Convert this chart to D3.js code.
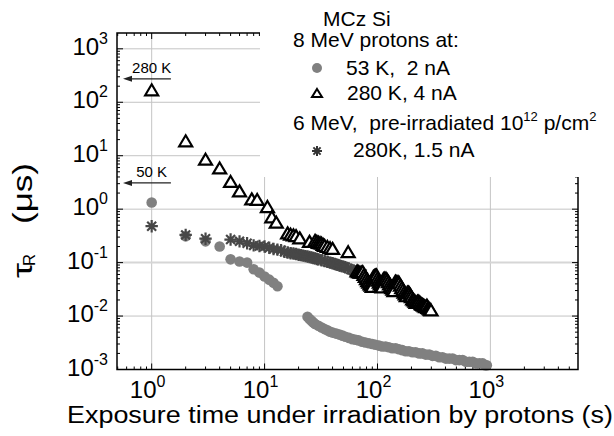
<!DOCTYPE html>
<html><head><meta charset="utf-8">
<script src="https://cdn.jsdelivr.net/npm/d3@7"></script>
<style>
body{margin:0;background:#fff}
text{font-family:"Liberation Sans",Arial,sans-serif;fill:#000}
</style>
</head><body><svg id="c" width="614" height="436"></svg>
<script>
// ---------- data ----------
// 53 K, 2 nA (grey circles)
const circT = [1,2,3,4,5,6,7,8,9,10,11,12,13,
  24,25,26,27,28,30,32,34,36,38,40,43,46,49,52,56,60,64,68,73,
  78,84,90,96,103,110,118,126,135,145,155,166,178,190,204,218,234,250,268,287,
  307,329,352,377,404,432,463,495,530,568,608,651,697,746,799,855,900,930];
const circV = [1.33,0.31,0.25,0.2,0.115,0.105,0.1,0.075,0.065,0.055,0.048,0.042,0.036,
  0.0097,0.0088,0.0082,0.0076,0.0071,0.0066,0.0061,0.0057,0.0054,0.0051,0.0049,0.0047,0.0045,0.0043,0.0041,0.0039,0.0037,0.0036,0.0035,0.0033,
  0.0032,0.0031,0.003,0.0029,0.0028,0.0027,0.0027,0.0026,0.0025,0.0025,0.0024,0.0023,0.0022,0.0022,0.0021,0.0021,0.002,0.002,0.0019,0.0019,
  0.0018,0.0018,0.0017,0.0017,0.0016,0.0016,0.0016,0.0015,0.0015,0.0015,0.0014,0.0014,0.0014,0.0013,0.0013,0.0013,0.0012,0.0012];
// 280 K, 4 nA (open triangles)
const triT = [1,2,3,4,5,6,7.7,8.6,10.6,11.6,12.7,
  16,17,18,19,20.5,
  25,28,29,30,31,32,33,34,36,38,40,55,
  66,68,70,72,74,76,78,80,82,84,86,88,90,
  92,94,96,98,100,102,104,106,108,110,
  113,116,119,122,125,128,131,134,137,140,
  144,148,152,156,160,164,168,172,176,180,
  184,188,192,196,200,205,210,215,220,
  226,232,238,244,250,256,262,268,274,280,286,292,298];
const triV = [171,19,8.6,5.9,3.3,2.2,1.56,1.52,1.12,0.72,0.57,
  0.36,0.34,0.33,0.32,0.29,
  0.25,0.26,0.25,0.24,0.235,0.23,0.22,0.21,0.2,0.19,0.185,0.16,
  0.07,0.068,0.066,0.066,0.068,0.06,0.055,0.05,0.046,0.043,0.04,0.038,0.036,
  0.055,0.057,0.058,0.059,0.052,0.047,0.043,0.04,0.037,0.035,
  0.05,0.051,0.051,0.048,0.044,0.04,0.037,0.034,0.032,0.03,
  0.045,0.044,0.044,0.042,0.038,0.034,0.031,0.028,0.026,0.024,
  0.028,0.028,0.027,0.025,0.023,0.021,0.02,0.019,0.018,
  0.019,0.019,0.018,0.017,0.0165,0.016,0.0155,0.015,0.016,0.0145,0.014,0.0135,0.013];
// 6 MeV pre-irradiated, 280K 1.5 nA (asterisks)
const starT = [1,2,3,5,6,7,8,9,10,11,12,13,14,15,16,17,18,19,20,21,22,23,24,25,26,27,28,29,30,32,34,36,38,40,42,44,46,48,50,52,55,58,61,64,67,70,73];
const starV = [0.48,0.33,0.28,0.27,0.25,0.23,0.21,0.205,0.2,0.19,0.18,0.175,0.17,0.16,0.155,0.15,0.148,0.145,0.14,0.138,0.135,0.132,0.13,0.127,0.125,0.122,0.12,0.117,0.115,0.11,0.107,0.104,0.1,0.097,0.094,0.091,0.088,0.086,0.084,0.082,0.078,0.074,0.071,0.068,0.066,0.064,0.062];

const xTickVals = [1,10,100,1000];
const xTickExp = ["0","1","2","3"];
const yTickVals = [1e-3,1e-2,1e-1,1,10,100,1000];
const yTickExp = ["-3","-2","-1","0","1","2","3"];
const xDomain = [0.493, 5970];
const yDomain = [1e-3, 1977];
const arrowLabels = ["280 K","50 K"];
const arrowTau = [275, 3.1];
const arrowFrom = 1.48, arrowTo = 0.557;

// ---------- layout ----------
const L=117, R=578, T=33, B=369.5;
const svg = d3.select("#c");
svg.append("rect").attr("width",614).attr("height",436).attr("fill","#fff");
const x = d3.scaleLog().domain(xDomain).range([L,R]);
const y = d3.scaleLog().domain(yDomain).range([B,T]);

// grid
const grid = svg.append("g");
xTickVals.forEach(v=>grid.append("line").attr("x1",x(v)).attr("x2",x(v)).attr("y1",T).attr("y2",B)
  .attr("stroke","#c4c4c4").attr("stroke-width",1));
yTickVals.forEach(v=>{ if(v<=1e-3) return;
  grid.append("line").attr("x1",L).attr("x2",R).attr("y1",y(v)).attr("y2",y(v))
  .attr("stroke", v===0.1?"#d6d6d6":"#c4c4c4").attr("stroke-width", v===0.1?2:1);});

// ticks
const ticks = svg.append("g").attr("stroke","#000").attr("stroke-width",1);
function minors(dom){ const out=[]; const a=Math.floor(Math.log10(dom[0])), b=Math.ceil(Math.log10(dom[1]));
  for(let e=a;e<=b;e++) for(let m=2;m<=9;m++){const v=m*Math.pow(10,e); if(v>=dom[0]&&v<=dom[1]) out.push(v);} return out;}
const xMin = minors(xDomain), yMin = minors(yDomain);
xTickVals.forEach(v=>{ticks.append("line").attr("x1",x(v)).attr("x2",x(v)).attr("y1",B).attr("y2",B-6);
  ticks.append("line").attr("x1",x(v)).attr("x2",x(v)).attr("y1",T).attr("y2",T+6);});
xMin.forEach(v=>{ticks.append("line").attr("x1",x(v)).attr("x2",x(v)).attr("y1",B).attr("y2",B-3);
  ticks.append("line").attr("x1",x(v)).attr("x2",x(v)).attr("y1",T).attr("y2",T+3);});
yTickVals.forEach(v=>{ticks.append("line").attr("x1",L).attr("x2",L+6).attr("y1",y(v)).attr("y2",y(v));
  ticks.append("line").attr("x1",R).attr("x2",R-6).attr("y1",y(v)).attr("y2",y(v));});
yMin.forEach(v=>{ticks.append("line").attr("x1",L).attr("x2",L+3).attr("y1",y(v)).attr("y2",y(v));
  ticks.append("line").attr("x1",R).attr("x2",R-3).attr("y1",y(v)).attr("y2",y(v));});

// tick labels
xTickVals.forEach((v,i)=>{
  const t=svg.append("text").attr("x",x(v)-4).attr("y",398).attr("text-anchor","middle").attr("font-size",24).text("10");
  t.append("tspan").attr("dy",-11).attr("font-size",16).text(xTickExp[i]);
});
yTickVals.forEach((v,i)=>{
  const t=svg.append("text").attr("x",108).attr("y",y(v)+6).attr("text-anchor","end").attr("font-size",24).text("10");
  t.append("tspan").attr("dy",-11).attr("font-size",16).text(yTickExp[i]);
});

// axis titles
svg.append("text").attr("x",67).attr("y",423).attr("font-size",23)
  .attr("textLength",546).attr("lengthAdjust","spacingAndGlyphs")
  .text("Exposure time under irradiation by protons (s)");
const yg = svg.append("g").attr("transform","rotate(-90)");
yg.append("text").attr("x",-278).attr("y",32).attr("font-size",27).attr("textLength",15).attr("lengthAdjust","spacingAndGlyphs").text("τ");
yg.append("text").attr("x",-266).attr("y",35).attr("font-size",17).attr("textLength",12).attr("lengthAdjust","spacingAndGlyphs").text("R");
yg.append("text").attr("x",-224).attr("y",32).attr("font-size",27).attr("textLength",61).attr("lengthAdjust","spacingAndGlyphs").text("(μs)");

// arrows
arrowLabels.forEach((lab,i)=>{
  const yy=y(arrowTau[i]);
  svg.append("line").attr("x1",x(arrowFrom)).attr("x2",x(arrowTo)+7).attr("y1",yy).attr("y2",yy).attr("stroke","#222").attr("stroke-width",1.3);
  const x0=x(arrowTo);
  svg.append("path").attr("d",`M${x0},${yy}L${x0+9},${yy-3}L${x0+9},${yy+3}Z`).attr("fill","#222");
  svg.append("text").attr("x",x(1)).attr("y",yy-6).attr("text-anchor","middle").attr("font-size",15).text(lab);
});

// markers
const triPath = (w,h)=>`M0,${-h/2}L${w/2},${h/2}L${-w/2},${h/2}Z`;
function starPath(s){return `M0,${-s}V${s}M${-s},0H${s}M${-s*0.72},${-s*0.72}L${s*0.72},${s*0.72}M${-s*0.72},${s*0.72}L${s*0.72},${-s*0.72}`;}

const circData = d3.zip(circT,circV);
const starData = d3.zip(starT,starV);
const triData = d3.zip(triT,triV);
const plot = svg.append("g");
plot.selectAll("circle.d").data(circData).join("circle").attr("class","d")
  .attr("cx",d=>x(d[0])).attr("cy",d=>y(d[1])).attr("r",5.3).attr("fill","#808080");
plot.selectAll("path.s").data(starData).join("path").attr("class","s")
  .attr("transform",d=>`translate(${x(d[0])},${y(d[1])})`).attr("d",starPath(6.2))
  .attr("stroke","#474747").attr("stroke-width",2.2).attr("fill","none");
plot.selectAll("path.t").data(triData).join("path").attr("class","t")
  .attr("transform",d=>`translate(${x(d[0])},${y(d[1])})`).attr("d",triPath(13,11))
  .attr("stroke","#000").attr("stroke-width",2.2).attr("fill","#fff").attr("stroke-linejoin","miter");

// frame
svg.append("rect").attr("x",L).attr("y",T).attr("width",R-L).attr("height",B-T).attr("fill","none").attr("stroke","#000").attr("stroke-width",1.5);

// legend background hides grid & frame corner
svg.append("rect").attr("x",260).attr("y",0).attr("width",614-260).attr("height",177).attr("fill","#fff");

// legend
const NB = "\u00A0";
const lg = svg.append("g").attr("font-size",21);
lg.append("text").attr("x",323).attr("y",26).text("MCz Si");
lg.append("text").attr("x",293).attr("y",47).text("8 MeV protons at:");
lg.append("circle").attr("cx",317).attr("cy",68).attr("r",5).attr("fill","#808080");
lg.append("text").attr("x",346).attr("y",75).text("53 K," + NB + NB + "2 nA");
lg.append("path").attr("transform","translate(317,93)").attr("d",triPath(10,8)).attr("stroke","#000").attr("stroke-width",2).attr("fill","#fff");
lg.append("text").attr("x",347).attr("y",100).text("280 K, 4 nA");
const t6 = lg.append("text").attr("x",293).attr("y",130).text("6 MeV," + NB + NB + "pre-irradiated 10");
t6.append("tspan").attr("dy",-9).attr("font-size",13).text("12");
t6.append("tspan").attr("dy",9).text(" p/cm");
t6.append("tspan").attr("dy",-9).attr("font-size",13).text("2");
lg.append("path").attr("transform","translate(317,151)").attr("d",starPath(5)).attr("stroke","#333").attr("stroke-width",2).attr("fill","none");
lg.append("text").attr("x",353).attr("y",157).text("280K, 1.5 nA");
</script>
</body></html>
